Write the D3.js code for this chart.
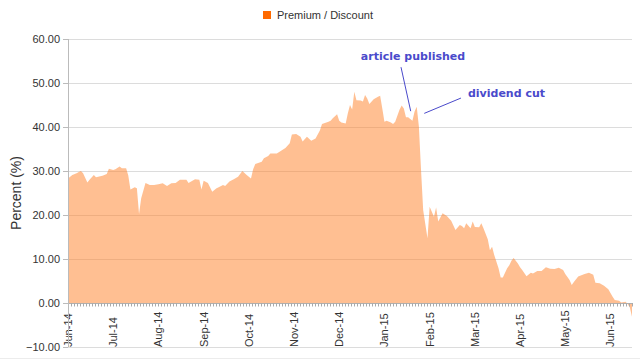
<!DOCTYPE html>
<html><head><meta charset="utf-8">
<script src="https://cdn.jsdelivr.net/npm/d3@7/dist/d3.min.js"></script>
<style>body{margin:0;background:#fff}svg{display:block}</style>
</head><body>
<svg id="c" width="640" height="360"></svg>
<script>
// ---- data (trading-day index, premium/discount in %) ----
const days = [0,2,4,5,6,7,9,10,12,13,14,16,18,19,21,22,24,25,27,28,29,31,32,33,34,36,38,40,42,44,46,48,50,52,55,56,59,61,62,63,65,67,69,70,72,73,75,77,79,81,83,85,86,87,90,91,93,94,97,99,101,103,104,106,108,109,111,113,115,117,118,121,122,123,125,126,127,129,130,131,132,133,134,136,137,138,139,140,142,144,145,146,147,148,150,151,152,154,155,156,157,158,160,161,162,163,164,165,167,168,170,171,172,174,176,178,180,182,183,184,185,187,188,189,191,192,193,195,196,197,198,200,201,202,204,205,206,207,209,210,211,213,215,216,218,220,222,224,226,228,230,231,233,234,235,237,240,242,244,245,247,249,251,253,254,256,257,259,260,261,262];
const premium = [28.3,29.1,29.5,29.8,30.0,29.5,27.4,28.0,29.1,28.6,28.7,28.9,29.3,30.5,30.2,30.4,31.0,30.6,30.6,29.0,25.8,26.3,26.1,20.2,23.8,27.3,26.8,26.8,27.0,27.2,26.6,27.2,27.3,28.0,28.0,27.3,28.1,28.0,25.8,27.8,27.3,25.3,26.1,26.3,26.8,26.6,27.6,28.1,28.7,30.0,29.1,28.3,30.4,31.6,32.1,32.9,33.4,34.0,34.0,34.6,35.2,36.3,38.3,38.4,37.8,36.7,37.8,36.9,37.4,39.2,40.7,41.2,41.4,42.0,42.9,41.4,41.0,40.8,43.1,45.0,44.0,48.0,46.1,46.0,45.8,47.3,46.5,45.2,46.3,46.9,47.1,44.2,41.2,41.4,41.0,40.7,41.2,43.9,44.9,44.2,42.2,42.2,41.4,43.5,44.6,40.1,30.2,21.1,14.7,21.9,19.6,21.7,18.5,20.4,19.8,18.7,16.6,17.7,17.5,17.0,18.1,17.0,18.5,17.3,17.2,18.1,17.0,14.5,12.0,12.8,10.9,7.9,5.8,5.8,7.9,8.6,9.6,10.2,9.0,8.1,7.5,6.1,6.9,6.7,7.3,7.3,8.1,7.8,7.7,8.0,7.5,6.6,5.2,4.1,4.8,6.0,6.6,6.9,6.4,4.6,4.5,3.9,3.1,1.4,0.7,0.5,0.1,0.3,-0.2,-1.0,-3.1];
const tickDays = [0,21,42,63,84,105,126,147,168,189,210,231,252];
const tickLabels = ["Jun-14","Jul-14","Aug-14","Sep-14","Oct-14","Nov-14","Dec-14","Jan-15","Feb-15","Mar-15","Apr-15","May-15","Jun-15"];
const yTicks = [-10,0,10,20,30,40,50,60];
const seriesName = "Premium / Discount";
const yTitle = "Percent (%)";
const annotationLabels = ["article published","dividend cut"];
const annotationDays = [159.2,165.5];
const annotationValues = [43.6,43.1];

// ---- drawing ----
const svg = d3.select("#c");
const x = d3.scaleLinear().domain([0,262]).range([68,632]);
const y = d3.scaleLinear().domain([-10,60]).range([347,39]);
const data = days.map((d,i)=>({day:d,value:premium[i]}));

// gridlines
svg.append("g").selectAll("line").data(yTicks.filter(v=>v!==0)).join("line")
  .attr("x1",x(0)).attr("x2",x(262))
  .attr("y1",d=>Math.round(y(d))+0.5).attr("y2",d=>Math.round(y(d))+0.5)
  .attr("stroke","#dcdcdc").attr("stroke-width",1);

// area
svg.append("path").datum(data)
  .attr("d",d3.area().x(d=>x(d.day)).y0(y(0)).y1(d=>y(d.value)))
  .attr("fill","#ff7f26").attr("fill-opacity",0.5);

// x axis line + dense minor ticks
const xg = svg.append("g");
xg.append("line").attr("x1",x(0)).attr("x2",x(262)).attr("y1",Math.round(y(0))+0.5).attr("y2",Math.round(y(0))+0.5)
  .attr("stroke","#b0b0b0");
xg.selectAll("line.m").data(d3.range(0,262.01,1.4)).join("line").attr("class","m")
  .attr("x1",d=>Math.round(x(d))+0.5).attr("x2",d=>Math.round(x(d))+0.5)
  .attr("y1",Math.round(y(0))).attr("y2",Math.round(y(0))+3.5)
  .attr("stroke","#aaaaaa");
xg.selectAll("text").data(tickDays).join("text")
  .attr("transform",(d)=>`translate(${x(d)+4},347) rotate(-90)`)
  .attr("text-anchor","start")
  .attr("font-family","Liberation Sans, Arial, sans-serif").attr("font-size",11).attr("fill","#333")
  .text((d,i)=>tickLabels[i]);

// y axis
const yg = svg.append("g");
yg.append("line").attr("x1",68.5).attr("x2",68.5).attr("y1",y(60)).attr("y2",y(-10)).attr("stroke","#bbbbbb");
yg.selectAll("line.t").data(yTicks).join("line").attr("class","t")
  .attr("x1",63).attr("x2",68).attr("y1",d=>Math.round(y(d))+0.5).attr("y2",d=>Math.round(y(d))+0.5)
  .attr("stroke","#bbbbbb");
yg.selectAll("text").data(yTicks).join("text")
  .attr("x",60).attr("y",d=>y(d)).attr("dy","0.35em").attr("text-anchor","end")
  .attr("font-family","Liberation Sans, Arial, sans-serif").attr("font-size",11).attr("fill","#333")
  .text(d=>d3.format(".2f")(d));
svg.append("text").attr("transform","translate(20.5,193) rotate(-90)").attr("text-anchor","middle")
  .attr("font-family","Liberation Sans, Arial, sans-serif").attr("font-size",14).attr("fill","#333")
  .text(yTitle);

// legend
svg.append("rect").attr("x",263).attr("y",11).attr("width",8).attr("height",8).attr("fill","#ff6a00");
svg.append("text").attr("x",277).attr("y",19).attr("font-family","Liberation Sans, Arial, sans-serif")
  .attr("font-size",11).attr("fill","#333").text(seriesName);

// annotations
const ac = "#4a4acb";
const a0x = x(annotationDays[0]), a0y = y(annotationValues[0]);
svg.append("line").attr("x1",a0x-9.7).attr("y1",a0y-44).attr("x2",a0x).attr("y2",a0y).attr("stroke",ac).attr("stroke-width",1);
svg.append("text").attr("x",a0x+2.3).attr("y",a0y-51).attr("text-anchor","middle")
  .attr("font-family","DejaVu Sans, sans-serif").attr("font-weight","bold").attr("font-size",11).attr("fill",ac)
  .text(annotationLabels[0]);
const a1x = x(annotationDays[1]), a1y = y(annotationValues[1]);
svg.append("line").attr("x1",a1x+36.7).attr("y1",a1y-15.3).attr("x2",a1x).attr("y2",a1y).attr("stroke",ac).attr("stroke-width",1);
svg.append("text").attr("x",a1x+43.7).attr("y",a1y-16.3).attr("text-anchor","start")
  .attr("font-family","DejaVu Sans, sans-serif").attr("font-weight","bold").attr("font-size",11).attr("fill",ac)
  .text(annotationLabels[1]);

// bottom border
svg.append("line").attr("x1",0).attr("x2",640).attr("y1",358.5).attr("y2",358.5).attr("stroke","#ececec");
</script>
</body></html>
